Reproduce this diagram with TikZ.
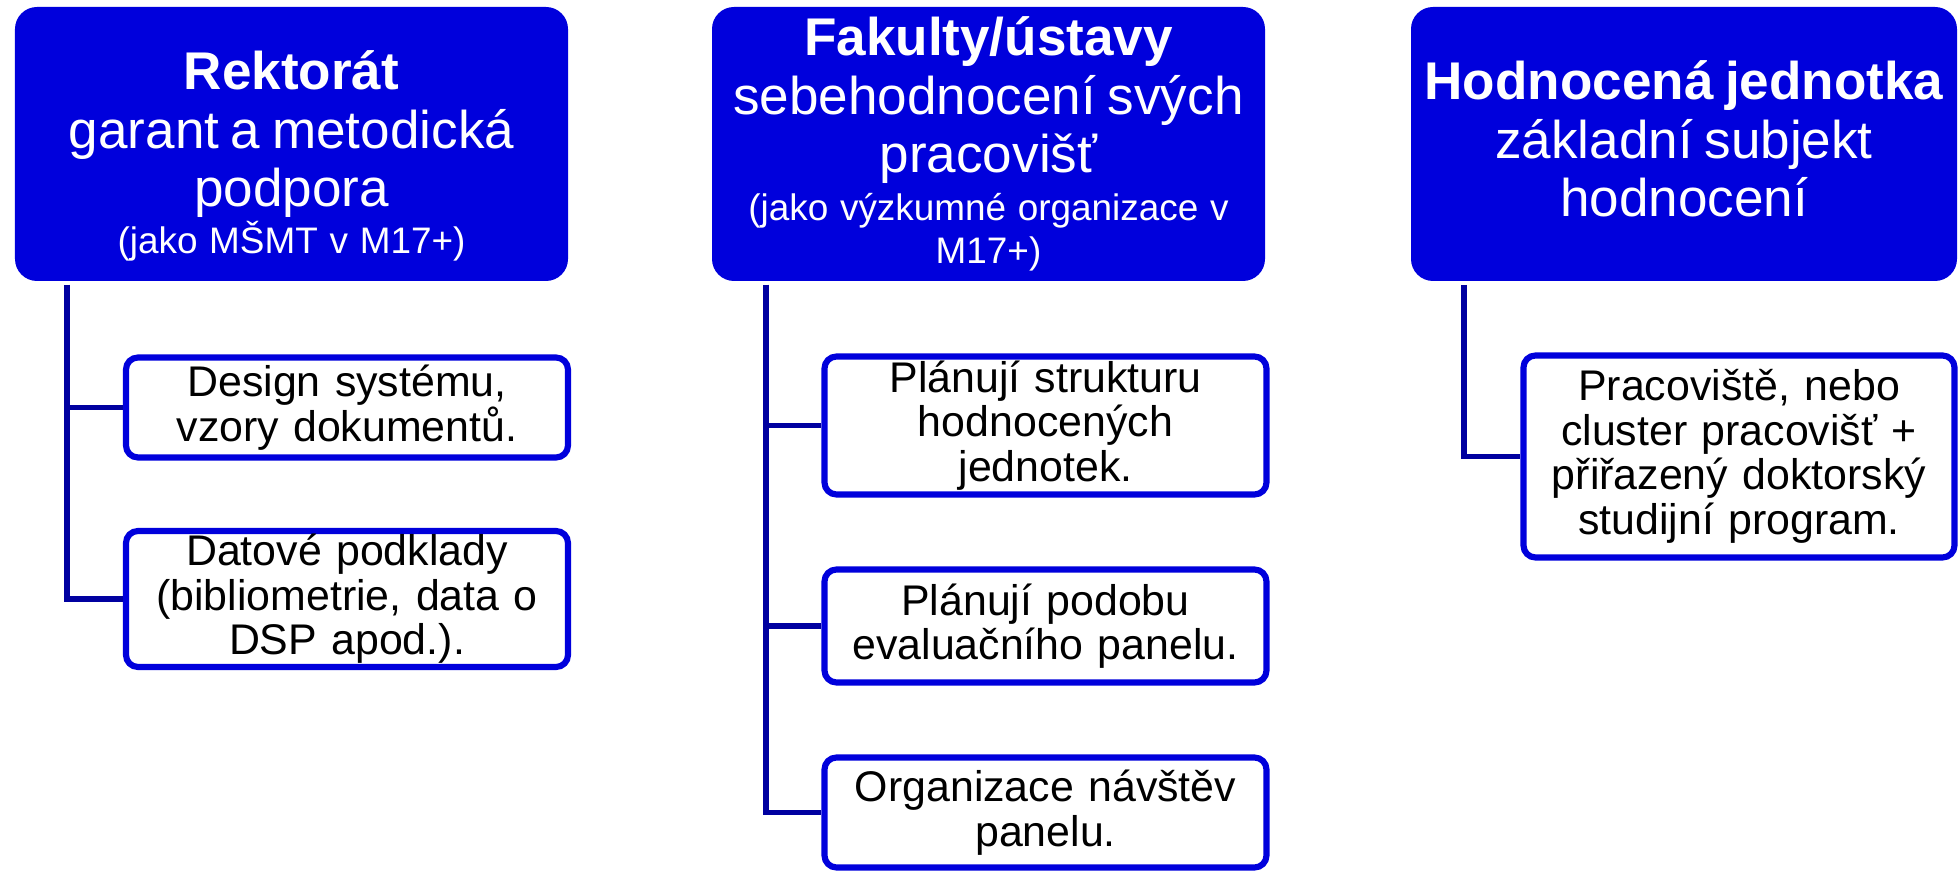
\documentclass[tikz,border=0pt]{standalone}
\usepackage{fontspec}
\setmainfont{Liberation Sans}
\usepackage{tikz}
\usetikzlibrary{positioning}
\usepackage{xcolor}

\definecolor{headblue}{RGB}{0,0,220}
\definecolor{trunkblue}{RGB}{0,0,160}

\newcommand\headfont{\fontsize{15.1}{16.6}\selectfont}
\newcommand\notefont{\fontsize{10.5}{12.2}\selectfont}
\newcommand\itemfont{\fontsize{12.2}{12.7}\selectfont}

\begin{document}
\begin{tikzpicture}[
    headbox/.style={rectangle, rounded corners=0.22cm, fill=headblue, text=white,
        minimum width=5.53cm, minimum height=2.74cm, text width=5.4cm, inner sep=0pt, align=center},
    itembox/.style={rectangle, rounded corners=0.12cm, draw=headblue, line width=1.75pt, fill=white,
        minimum width=4.42cm, text width=4.2cm, inner sep=0pt, align=center, font=\itemfont},
    branch/.style={draw=trunkblue, line width=1.5pt}]
    \useasboundingbox (0,0) rectangle (19.59,8.72);
    % heads
    \node[headbox] (rekt) at(2.915,7.28) {{\headfont\bfseries Rektorát\par}{\headfont garant a metodická\\podpora\par}{\notefont (jako MŠMT v M17+)\par}\vspace{-0.24cm}};
    \node[headbox] (fak) at(9.885,7.28) {{\headfont\bfseries Fakulty/ústavy\par}{\headfont sebehodnocení svých\\pracovišť\par}{\notefont\vspace{1.4pt}(jako výzkumné organizace v\\M17+)\par}};
    \node[headbox, minimum width=5.46cm] (hj) at(16.84,7.28) {{\headfont\bfseries Hodnocená jednotka\par}{\headfont základní subjekt\\hodnocení\par}\vspace{0.1cm}};
    % items
    \node[itembox, minimum height=1.0cm] (design) at(3.47,4.645) {Design systému,\\vzory dokumentů.};
    \node[itembox, minimum height=1.36cm] (data) at(3.47,2.73) {Datové podklady\\(bibliometrie, data o\\DSP apod.).};
    \node[itembox, minimum height=1.38cm] (struk) at(10.455,4.465) {Plánují strukturu\\hodnocených\\jednotek.};
    \node[itembox, minimum height=1.13cm] (panel) at(10.455,2.46) {Plánují podobu\\evaluačního panelu.};
    \node[itembox, minimum height=1.10cm] (navst) at(10.455,0.595) {Organizace návštěv\\panelu.};
    \node[itembox, minimum width=4.31cm, minimum height=2.02cm] (prac) at(17.39,4.155) {Pracoviště, nebo\\cluster pracovišť +\\přiřazený doktorský\\studijní program.};
    % trunks
    \coordinate (t1) at(0.67,5.87);
    \coordinate (t2) at(7.66,5.87);
    \coordinate (t3) at(14.64,5.87);
    % branches
    \draw[branch] (t1) |- (design.west);
    \draw[branch] (t1) |- (data.west);
    \draw[branch] (t2) |- (struk.west);
    \draw[branch] (t2) |- (panel.west);
    \draw[branch] (t2) |- (navst.west);
    \draw[branch] (t3) |- (prac.west);
\end{tikzpicture}
\end{document}
